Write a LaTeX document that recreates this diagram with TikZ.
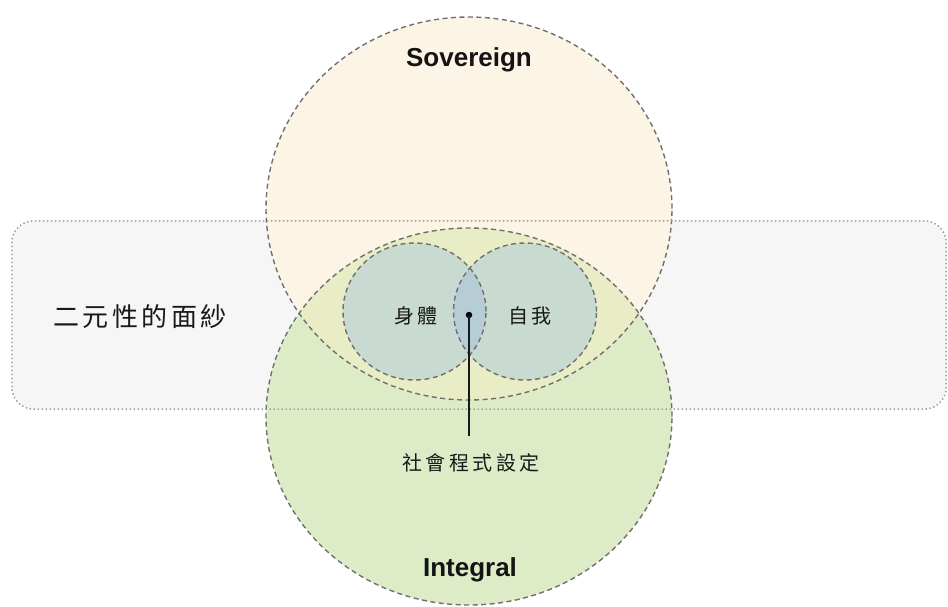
\documentclass[tikz,border=0pt]{standalone}
\usepackage{fontspec}
\setmainfont{Liberation Sans}
\newfontfamily\cjk{Noto Sans CJK TC}
\usetikzlibrary{shapes.geometric}
\definecolor{cream}{HTML}{FCF5E6}
\definecolor{leaf}{HTML}{DDEBC7}
\definecolor{lensc}{HTML}{E9EDC5}
\definecolor{innerc}{HTML}{C9DAD1}
\definecolor{midc}{HTML}{B6CDD6}
\definecolor{bandc}{HTML}{F6F6F6}
\definecolor{dashc}{HTML}{707070}
\definecolor{dotc}{HTML}{9A9A9A}
\tikzset{
  blob/.style={ellipse, inner sep=0pt, outer sep=0pt},
  dline/.style={draw=dashc, line width=1.4pt, dash pattern=on 5pt off 3.5pt},
  dotline/.style={draw=dotc, line width=1.5pt, dash pattern=on 1.4pt off 2.6pt},
  title/.style={font=\bfseries\fontsize{26}{30}\selectfont, text=black!92},
  cjkbig/.style={font=\cjk\fontsize{26}{30}\selectfont\addfontfeatures{LetterSpace=13}, text=black!90},
  cjksmall/.style={font=\cjk\fontsize{20}{24}\selectfont\addfontfeatures{LetterSpace=18}, text=black!90}
}
\begin{document}
\begin{tikzpicture}[x=1pt, y=-1pt]
\useasboundingbox (0,0) rectangle (948,606);
% band fill
\node[draw=none, fill=bandc, rounded corners=22pt, minimum width=934pt, minimum height=188pt, inner sep=0pt] (band) at (479,315) {};
% big ellipses
\node[blob, fill=cream, minimum width=406pt, minimum height=383pt] (sov) at (469,208.5) {};
\node[blob, fill=leaf, minimum width=406pt, minimum height=377pt] (intg) at (469,416.5) {};
\begin{scope}
  \clip (sov.center) ellipse [x radius=203pt, y radius=191.5pt];
  \fill[lensc] (intg.center) ellipse [x radius=203pt, y radius=188.5pt];
\end{scope}
% inner circles
\node[blob, fill=innerc, minimum width=143pt, minimum height=137pt] (body) at (414.5,311.5) {};
\node[blob, fill=innerc, minimum width=143pt, minimum height=137pt] (self) at (525,311.5) {};
\begin{scope}
  \clip (body.center) ellipse [x radius=71.5pt, y radius=68.5pt];
  \fill[midc] (self.center) ellipse [x radius=71.5pt, y radius=68.5pt];
\end{scope}
% outlines
\draw[dline] (sov.center) ellipse [x radius=203pt, y radius=191.5pt];
\draw[dline] (intg.center) ellipse [x radius=203pt, y radius=188.5pt];
\draw[dline] (body.center) ellipse [x radius=71.5pt, y radius=68.5pt];
\draw[dline] (self.center) ellipse [x radius=71.5pt, y radius=68.5pt];
\draw[dotline, rounded corners=22pt] (band.south west) rectangle (band.north east);
% texts
\node[title] (sovt) at (469,60) {Sovereign};
\node[title] (intt) at (470,570) {Integral};
\node[cjkbig] (veil) at (140,317) {二元性的面紗};
\node[cjksmall] (bodyt) at (416,316) {身體};
\node[cjksmall] (selft) at (530,316) {自我};
\node[cjksmall] (prog) at (471,463) {社會程式設定};
% connector
\node[circle, fill=black, inner sep=0pt, minimum size=6.5pt] (dot) at (469,315) {};
\coordinate (lend) at (469,436);
\draw[line width=1.5pt, black!90] (dot.center) -- (lend);
\end{tikzpicture}
\end{document}
